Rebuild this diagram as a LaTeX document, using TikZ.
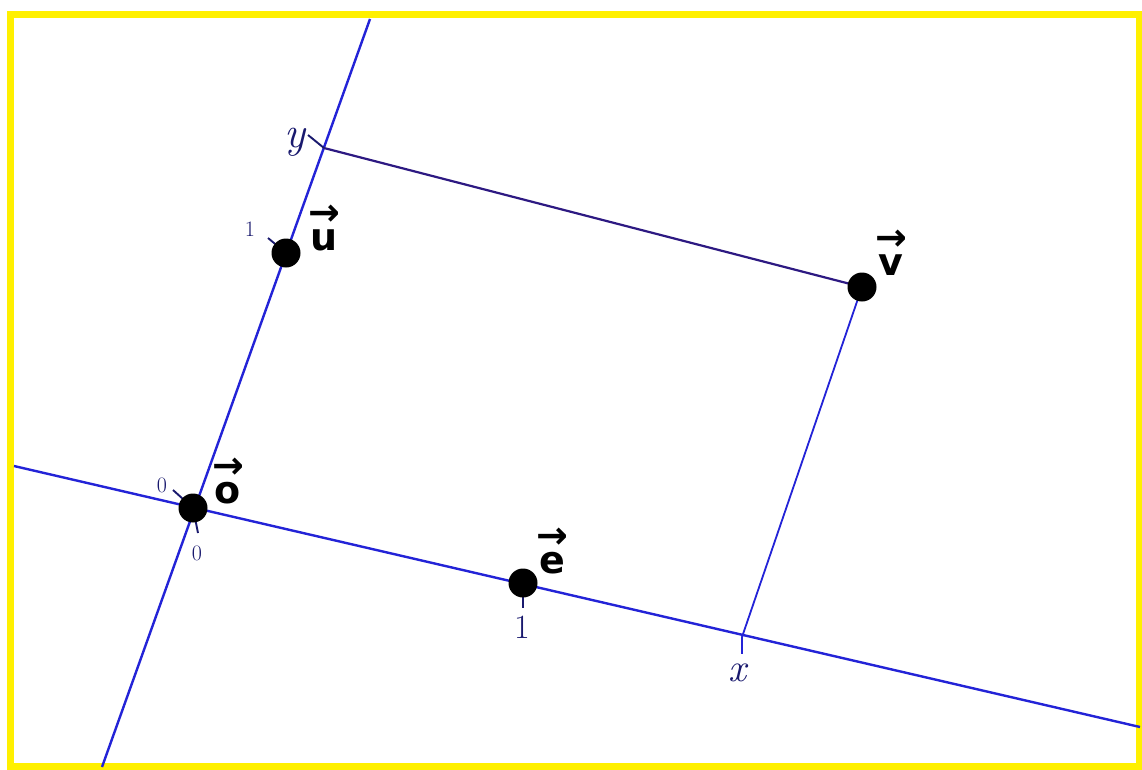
\documentclass[tikz,border=0pt]{standalone}
\usepackage{fontspec}
\newfontfamily\vfont{DejaVu Sans}
\definecolor{axblue}{RGB}{35,35,215}
\definecolor{darkline}{RGB}{45,25,130}
\definecolor{tickc}{RGB}{25,25,110}
\definecolor{frameyellow}{RGB}{255,240,0}
\begin{document}
\begin{tikzpicture}[x=1pt,y=-1pt,
  frame/.style={draw=frameyellow,line width=7pt},
  axis/.style={draw=axblue,line width=2.4pt},
  guide/.style={draw=axblue,line width=1.8pt},
  guidedark/.style={draw=darkline,line width=2.2pt},
  tickmark/.style={draw=tickc,line width=1.9pt},
  dot/.style={circle,fill=black,inner sep=0pt,minimum size=29pt},
  vecsym/.style={font=\vfont\bfseries\fontsize{38}{25}\selectfont,inner sep=0pt,align=center,anchor=south},
  small/.style={font=\fontsize{22}{22}\selectfont,text=tickc,inner sep=0pt},
  big/.style={font=\fontsize{34}{34}\selectfont,text=tickc,inner sep=0pt},
  letter/.style={font=\itshape\fontsize{40}{40}\selectfont,text=tickc,inner sep=0pt}]
\useasboundingbox (0,0) rectangle (1142,769);
\fill[white] (0,0) rectangle (1142,769);
\draw[frame] (10,14) rectangle (1139,766);
% points
\coordinate (L) at (14,466);
\coordinate (R) at (1140,727);
\coordinate (B) at (102,767);
\coordinate (T) at (370,19);
\coordinate (O) at (193,508);
\coordinate (E) at (523,583);
\coordinate (X) at (742,637);
\coordinate (U) at (286,253);
\coordinate (Y) at (324,148);
\coordinate (V) at (862,287);
% tick ends
\coordinate (tO1) at (173,490);
\coordinate (tO2) at (198,533);
\coordinate (tE) at (523,608);
\coordinate (tX) at (742,654);
\coordinate (tU) at (268,238);
\coordinate (tY) at (308,135);
% axes
\draw[axis] (L) -- (R);
\draw[axis] (B) -- (T);
\draw[guidedark] (Y) -- (V);
\draw[guide] (V) -- (X);
% ticks
\draw[tickmark] (tO1) -- (O);
\draw[tickmark] (O) -- (tO2);
\draw[tickmark] (E) -- (tE);
\draw[guide] (X) -- (tX);
\draw[tickmark] (tU) -- (U);
\draw[tickmark] (tY) -- (Y);
% dots
\node[dot] (dO) at (O) {};
\node[dot] (dE) at (E) {};
\node[dot] (dU) at (U) {};
\node[dot] (dV) at (V) {};
% vector labels
\node[vecsym] (vO) at (228,504) {→\\o};
\node[vecsym] (vE) at (552,574) {→\\e};
\node[vecsym] (vU) at (324,251) {→\\u};
\node[vecsym] (vV) at (891,276) {→\\v};
% numeric labels
\node[small] (n0a) at (162,485) {0};
\node[small] (n0b) at (197,553) {0};
\node[small] (n1u) at (250,229) {1};
\node[big] (n1e) at (522,627) {1};
\node[letter] (nx) at (737,673) {x};
\node[letter,font=\itshape\fontsize{44}{44}\selectfont] (ny) at (295,142) {y};
\end{tikzpicture}
\end{document}
